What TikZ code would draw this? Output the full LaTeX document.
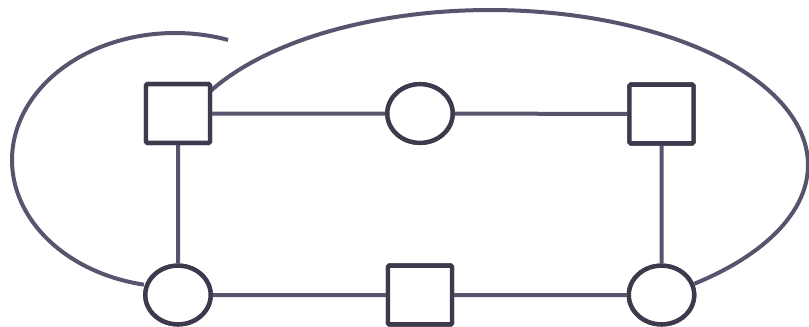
\documentclass[tikz,border=0pt]{standalone}
\usetikzlibrary{shapes.geometric}
\definecolor{edgecol}{RGB}{85,86,110}
\definecolor{nodecol}{RGB}{60,58,76}
\begin{document}
\begin{tikzpicture}[x=0.75pt,y=-0.75pt,
  sq/.style={draw=nodecol,line width=3.3pt,rectangle,rounded corners=1pt,minimum width=48pt,minimum height=44pt,inner sep=0pt,fill=white},
  ov/.style={draw=nodecol,line width=3.3pt,ellipse,minimum width=49pt,minimum height=44pt,inner sep=0pt,fill=white},
  ed/.style={draw=edgecol,line width=3pt}]
\useasboundingbox(0,0)rectangle(809,326);
\node[sq](s1)at(178,113.5){};\node[ov](c2)at(420,113.5){};\node[sq](s3)at(661.5,114){};
\node[ov](c4)at(178,295){};\node[sq](s5)at(420,295){};\node[ov](c6)at(661.5,295){};
\draw[ed](s1)--(c2)--(s3)(s1)--(c4)(s3)--(c6)(c4)--(s5)--(c6);
% outer loops
\draw[ed,variable=\t,samples=120,domain=154:-50]plot({490+318*cos(\t)},{165-155*sin(\t)});
\draw[ed,variable=\t,samples=120,domain=259:71]plot({175+163*cos(\t)},{160-127*sin(\t)});
\node[sq]at(s1){};\node[ov]at(c2){};\node[sq]at(s3){};\node[ov]at(c4){};\node[sq]at(s5){};\node[ov]at(c6){};
\end{tikzpicture}
\end{document}
